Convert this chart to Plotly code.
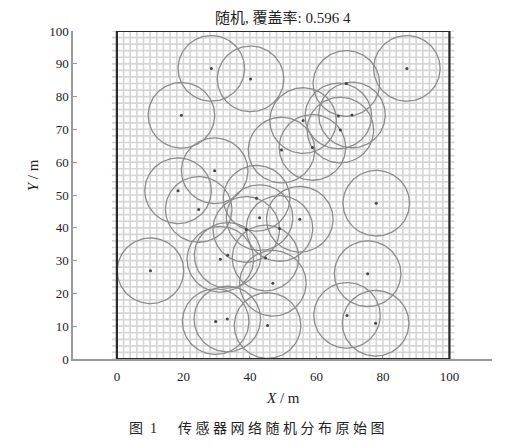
import numpy as np
import plotly.graph_objects as go

# sensor node positions (m)
node_x = [28.4, 40.2, 87.2, 19.4, 69.0, 66.6, 70.7, 56.0, 67.2, 49.5,
          58.8, 29.4, 18.4, 24.6, 42.0, 42.9, 55.0, 48.9, 38.9, 78.0,
          10.1, 31.1, 33.3, 44.7, 46.9, 75.4, 29.7, 33.2, 45.3, 69.2, 77.8]
node_y = [88.6, 85.4, 88.6, 74.3, 84.0, 74.1, 74.4, 72.7, 69.8, 63.7,
          64.5, 57.4, 51.3, 45.6, 49.0, 43.1, 42.6, 39.8, 39.5, 47.5,
          26.9, 30.4, 31.6, 30.8, 23.1, 26.0, 11.4, 12.2, 10.2, 13.3, 10.9]
sensing_radius = 10.0
area_size = 100
grid_step = 2
x_ticks = [0, 20, 40, 60, 80, 100]
y_ticks = [0, 10, 20, 30, 40, 50, 60, 70, 80, 90, 100]
title_text = "随机, 覆盖率: 0.596 4"
caption_text = "图\u20021\u2003\u2002传 感 器 网 络 随 机 分 布 原 始 图"

SERIF = "Liberation Serif, Times New Roman, Noto Sans CJK SC, serif"

fig = go.Figure()

# fine background grid over the monitored area
gx, gy = [], []
ext = 1.5
for v in np.arange(0, area_size + grid_step / 2, grid_step):
    gx += [v, v, None]
    gy += [-ext, area_size + ext, None]
    gx += [-ext, area_size + ext, None]
    gy += [v, v, None]
fig.add_trace(go.Scatter(x=gx, y=gy, mode="lines",
                         line=dict(color="#d6d6d6", width=1.7),
                         hoverinfo="skip", showlegend=False))

# sensing circles
t = np.linspace(0, 2 * np.pi, 121)
cx, cy = [], []
for x0, y0 in zip(node_x, node_y):
    cx += list(x0 + sensing_radius * np.cos(t)) + [None]
    cy += list(y0 + sensing_radius * np.sin(t)) + [None]
fig.add_trace(go.Scatter(x=cx, y=cy, mode="lines",
                         line=dict(color="#8c8c8c", width=1.3),
                         hoverinfo="skip", showlegend=False))

# node centres
fig.add_trace(go.Scatter(x=node_x, y=node_y, mode="markers",
                         marker=dict(color="#444444", size=3),
                         showlegend=False))

# area border
fig.add_shape(type="rect", x0=0, y0=0, x1=area_size, y1=area_size,
              xref="x", yref="y", line=dict(color="#2a2a2a", width=2.2))

fig.update_layout(
    width=503, height=437,
    margin=dict(l=65, r=19, t=23, b=86),
    paper_bgcolor="white", plot_bgcolor="white",
    font=dict(family=SERIF, size=13, color="#222222"),
    xaxis=dict(range=[-13.2, 112.8], tickvals=x_ticks, showgrid=False,
               zeroline=False, showline=True, linecolor="#9a9a9a",
               linewidth=1.5, ticks="inside", ticklen=3, tickcolor="#9a9a9a",
               ticklabelstandoff=5,
               tickfont=dict(family=SERIF, size=13, color="#222222")),
    yaxis=dict(range=[0, 100], tickvals=y_ticks, showgrid=False,
               zeroline=False, showline=True, linecolor="#9a9a9a",
               linewidth=1.5, ticks="inside", ticklen=4, tickcolor="#9a9a9a",
               tickfont=dict(family=SERIF, size=13, color="#222222")),
    showlegend=False,
)

fig.add_annotation(text=title_text, xref="paper", yref="paper",
                   x=0.5, y=1, yshift=3, yanchor="bottom", showarrow=False,
                   font=dict(family=SERIF, size=15, color="#222222"))
fig.add_annotation(text="<i>X</i> / m", xref="paper", yref="paper",
                   x=0.5, y=0, yshift=-39, yanchor="middle", showarrow=False,
                   font=dict(family=SERIF, size=15, color="#222222"))
fig.add_annotation(text="<i>Y</i> / m", xref="paper", yref="paper",
                   x=0, xshift=-40, y=0.56, textangle=-90,
                   xanchor="center", yanchor="middle", showarrow=False,
                   font=dict(family=SERIF, size=15, color="#222222"))
fig.add_annotation(text=caption_text, xref="paper", yref="paper",
                   x=0.44, y=0, yshift=-69, yanchor="middle", showarrow=False,
                   font=dict(family=SERIF, size=14, color="#222222"))

fig.write_html("out.html")
